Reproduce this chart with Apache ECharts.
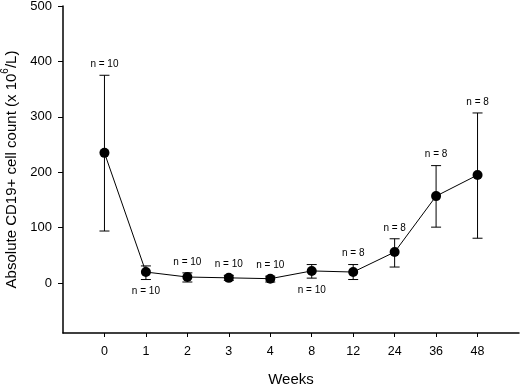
<!DOCTYPE html>
<html>
<head>
<meta charset="utf-8">
<script src="https://cdn.jsdelivr.net/npm/echarts@6/dist/echarts.min.js"></script>
<style>
  html, body { margin: 0; padding: 0; background: #fff; }
  #chart { width: 520px; height: 386px; }
</style>
</head>
<body>
<div id="chart"></div>
<script>
// weeks after start, mean count with error bar ends, and n per timepoint
const weeks = ['0', '1', '2', '3', '4', '8', '12', '24', '36', '48'];
const meanCount = [235, 20, 11, 9.5, 8, 22, 20, 56, 157, 195];
const upperErr = [375, 31, 18.5, 14, 12.5, 33.5, 33.5, 80, 212, 307];
const lowerErr = [94, 6.5, 2, 5, 2, 9, 6.5, 29, 101, 81];
const nSubjects = [10, 10, 10, 10, 10, 10, 8, 8, 8, 8];
const nBelow = [false, true, false, false, false, true, false, false, false, false];
const yTicks = [0, 100, 200, 300, 400, 500];

// pad one empty slot each side so the points sit one step in from the axes
const cats = [''].concat(weeks, [' ']);

let chart = echarts.init(document.getElementById('chart'));
let font = 'Arial, "Liberation Sans", sans-serif';

let option = {
  animation: false,
  grid: {
    left: 63,
    right: 1,
    top: 6,
    bottom: 53,
    outerBoundsMode: 'none'
  },
  xAxis: {
    type: 'category',
    data: cats,
    boundaryGap: false,
    name: 'Weeks',
    nameLocation: 'middle',
    nameGap: 39,
    nameTextStyle: { fontSize: 15, color: '#000', fontFamily: font },
    axisLine: { onZero: false, lineStyle: { color: '#000', width: 1.5 } },
    axisTick: {
      length: 4,
      lineStyle: { color: '#000', width: 1 },
      interval: (idx) => idx > 0 && idx < cats.length - 1
    },
    axisLabel: {
      interval: 0,
      margin: 12,
      fontSize: 12.5,
      color: '#000',
      fontFamily: font
    },
    splitLine: { show: false }
  },
  yAxis: {
    type: 'value',
    min: -90,
    max: 500,
    name: '{a|Absolute CD19+ cell count (x 10}{s|6}{a|/L)}',
    nameLocation: 'middle',
    nameGap: 43,
    nameTextStyle: {
      rich: {
        a: { fontSize: 15, color: '#000', fontFamily: font, lineHeight: 19, verticalAlign: 'bottom' },
        s: { fontSize: 10, color: '#000', fontFamily: font, lineHeight: 19, verticalAlign: 'top' }
      }
    },
    axisLine: { show: true, lineStyle: { color: '#000', width: 1.5 } },
    axisTick: {
      show: true,
      length: 5,
      customValues: yTicks,
      lineStyle: { color: '#000', width: 1 }
    },
    axisLabel: {
      customValues: yTicks,
      margin: 11,
      fontSize: 13,
      color: '#000',
      fontFamily: font
    },
    splitLine: { show: false }
  },
  series: [
    {
      type: 'custom',
      data: weeks.map((w, i) => [i + 1, upperErr[i], lowerErr[i], nSubjects[i], nBelow[i] ? 1 : 0]),
      renderItem: function (params, api) {
        let x = api.value(0);
        let top = api.coord([x, api.value(1)]);
        let bot = api.coord([x, api.value(2)]);
        let half = 5;
        let st = { stroke: '#000', lineWidth: 1 };
        let below = api.value(4) === 1;
        return {
          type: 'group',
          children: [
            { type: 'line', shape: { x1: top[0], y1: top[1], x2: bot[0], y2: bot[1] }, style: st },
            { type: 'line', shape: { x1: top[0] - half, y1: top[1], x2: top[0] + half, y2: top[1] }, style: st },
            { type: 'line', shape: { x1: bot[0] - half, y1: bot[1], x2: bot[0] + half, y2: bot[1] }, style: st },
            {
              type: 'text',
              style: {
                text: 'n = ' + api.value(3),
                x: top[0],
                y: below ? bot[1] + 12 : top[1] - 11,
                align: 'center',
                verticalAlign: 'middle',
                fontSize: 10,
                fontFamily: font,
                fill: '#000'
              }
            }
          ]
        };
      },
      z: 1
    },
    {
      type: 'line',
      data: weeks.map((w, i) => [i + 1, meanCount[i]]),
      symbol: 'circle',
      symbolSize: 10,
      lineStyle: { color: '#000', width: 1 },
      itemStyle: { color: '#000' },
      z: 3
    }
  ]
};

chart.setOption(option);
</script>
</body>
</html>
